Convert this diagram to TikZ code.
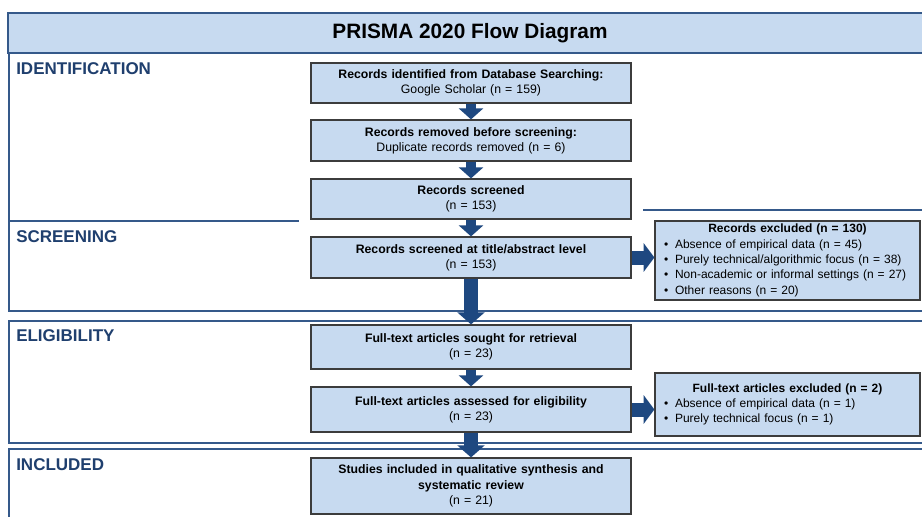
\documentclass[tikz,border=0pt]{standalone}
\usepackage{fontspec}
\setmainfont{Liberation Sans}
\usetikzlibrary{arrows.meta}
\definecolor{boxfill}{HTML}{C7DAF0}
\definecolor{navy}{HTML}{1E4880}
\definecolor{labelblue}{HTML}{1F3F6E}
\definecolor{frameblue}{HTML}{35598A}
\definecolor{boxline}{HTML}{3C3C3C}
\begin{document}
\begin{tikzpicture}[x=0.75pt,y=-0.75pt,
  frame/.style={draw=frameblue, line width=1.3pt},
  mainbox/.style={draw=boxline, line width=0.9pt, fill=boxfill, minimum width=240pt,
    text width=232pt, align=center, inner sep=0pt,
    font=\fontsize{9.2}{11.4}\selectfont},
  exbox/.style={draw=boxline, line width=0.9pt, fill=boxfill, minimum width=198.75pt,
    text width=193pt, align=left, inner xsep=2.8pt, inner ysep=0pt,
    font=\fontsize{9}{11.5}\selectfont},
  seclabel/.style={anchor=west, inner sep=0pt, text=labelblue,
    font=\fontsize{12.75}{14}\selectfont\bfseries},
  smalldown/.style={draw=navy, line width=7.5pt, -{Triangle[width=18pt,length=8.25pt]}},
  bigdown/.style={draw=navy, line width=10.5pt, -{Triangle[width=20pt,length=9pt]}},
  rightarr/.style={draw=navy, line width=10.5pt, -{Triangle[width=21pt,length=8pt]}}
]
\useasboundingbox (0,0) rectangle (922,517);
\fill[white] (0,0) rectangle (922,517);
\begin{scope}
\clip (0,0) rectangle (922,517);
% title band
\draw[frame, fill=boxfill] (8,13) rectangle (940,53);
% section frames
\draw[frame] (9,53) -- (9,311) -- (940,311);
\draw[frame] (9,221) -- (299,221);
\draw[frame] (643,210) -- (940,210);
\draw[frame] (940,321) -- (9,321) -- (9,443) -- (940,443);
\draw[frame] (940,449) -- (9,449) -- (9,530);
\end{scope}

\node[inner sep=0pt, font=\fontsize{15.6}{18}\selectfont\bfseries] (title) at (470,33.5) {PRISMA 2020 Flow Diagram};

\node[seclabel] (lid) at (16,69) {IDENTIFICATION};
\node[seclabel] (lsc) at (16,236.5) {SCREENING};
\node[seclabel] (lel) at (16,336) {ELIGIBILITY};
\node[seclabel] (lin) at (16,464.5) {INCLUDED};

% main boxes
\node[mainbox, minimum height=30pt] (b1) at (471,83) {\textbf{Records identified from Database Searching:}\\Google Scholar (n = 159)};
\node[mainbox, minimum height=30.75pt] (b2) at (471,140.5) {\textbf{Records removed before screening:}\\Duplicate records removed (n = 6)};
\node[mainbox, minimum height=30pt] (b3) at (471,199) {\textbf{Records screened}\\(n = 153)};
\node[mainbox, minimum height=30.75pt] (b4) at (471,257.5) {\textbf{Records screened at title/abstract level}\\(n = 153)};
\node[mainbox, minimum height=33pt] (b5) at (471,347) {\textbf{Full-text articles sought for retrieval}\\(n = 23)};
\node[mainbox, minimum height=33.75pt] (b6) at (471,409.5) {\textbf{Full-text articles assessed for eligibility}\\(n = 23)};
\node[mainbox, minimum height=42pt] (b7) at (471,486) {\textbf{Studies included in qualitative synthesis and}\\\textbf{systematic review}\\(n = 21)};

% exclusion boxes
\node[exbox, minimum height=59.25pt] (ex1) at (787.5,260.5) {\makebox[193pt]{\textbf{Records excluded (n = 130)}}\\
\hspace*{4pt}\textbullet\hspace{5pt}Absence of empirical data (n = 45)\\
\hspace*{4pt}\textbullet\hspace{5pt}Purely technical/algorithmic focus (n = 38)\\
\hspace*{4pt}\textbullet\hspace{5pt}Non-academic or informal settings (n = 27)\\
\hspace*{4pt}\textbullet\hspace{5pt}Other reasons (n = 20)};
\node[exbox, minimum height=47.25pt] (ex2) at (787.5,404.5) {\makebox[193pt]{\textbf{Full-text articles excluded (n = 2)}}\\
\hspace*{4pt}\textbullet\hspace{5pt}Absence of empirical data (n = 1)\\
\hspace*{4pt}\textbullet\hspace{5pt}Purely technical focus (n = 1)};

% arrows
\draw[smalldown] (b1.south) -- (b2.north);
\draw[smalldown] (b2.south) -- (b3.north);
\draw[smalldown] (b3.south) -- (b4.north);
\draw[bigdown] (b4.south) -- (b5.north);
\draw[smalldown] (b5.south) -- (b6.north);
\draw[bigdown] (b6.south) -- (b7.north);
\draw[rightarr] (b4.east) -- (b4.east -| ex1.west);
\draw[rightarr] (b6.east) -- (b6.east -| ex2.west);
\end{tikzpicture}
\end{document}
